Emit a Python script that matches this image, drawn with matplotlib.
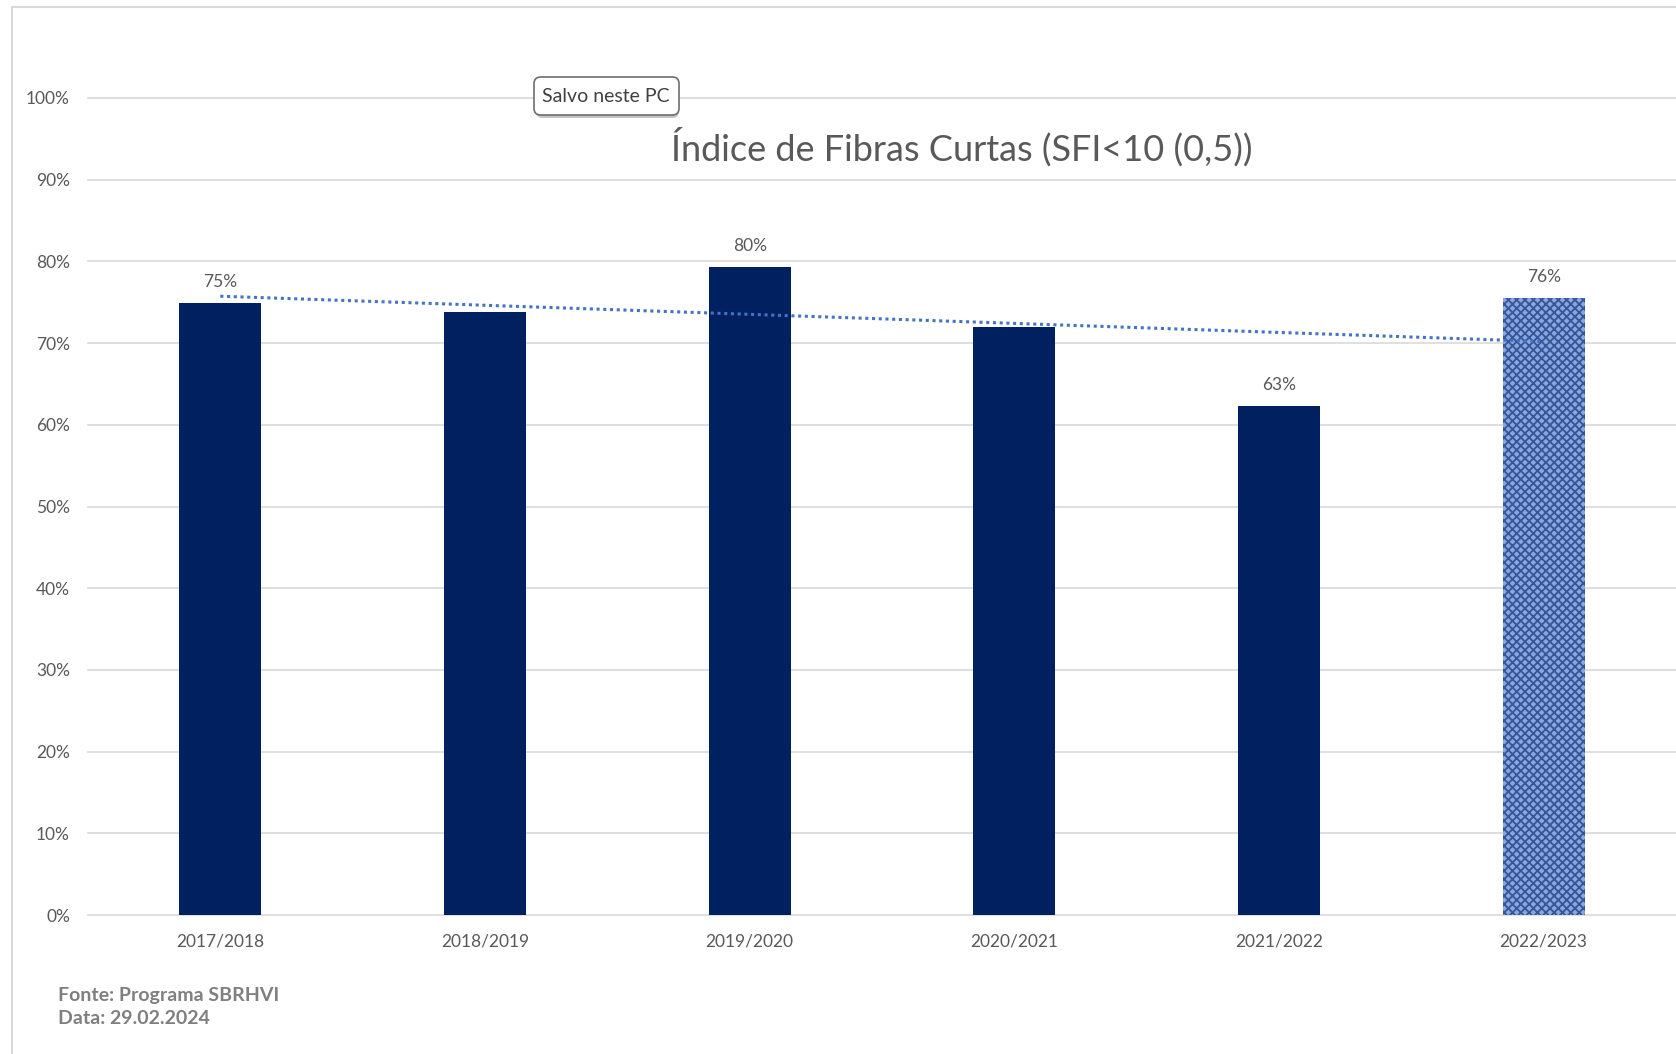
import numpy as np
import matplotlib.pyplot as plt
from matplotlib.patches import FancyBboxPatch, Rectangle

# data
seasons = ['2017/2018', '2018/2019', '2019/2020', '2020/2021', '2021/2022', '2022/2023']
sfi = [0.749, 0.738, 0.793, 0.720, 0.623, 0.755]
labels = ['75%', '', '80%', '', '63%', '76%']
y_ticks = [0, 0.1, 0.2, 0.3, 0.4, 0.5, 0.6, 0.7, 0.8, 0.9, 1.0]

plt.rcParams['font.family'] = ['Lato', 'DejaVu Sans']
plt.rcParams['hatch.linewidth'] = 1.3
gray = '#595959'

fig = plt.figure(figsize=(16.76, 10.54), dpi=100)
ax = fig.add_axes([88 / 1676, 1 - 915 / 1054, 1 - 88 / 1676, (915 - 98) / 1054])

x = np.arange(len(seasons))
ax.bar(x[:-1], sfi[:-1], width=0.31, color='#002060', zorder=2)
# last season drawn with a textured fill
ax.bar(x[-1], sfi[-1], width=0.31, color='#8aa6dc', hatch='xxxx', edgecolor='#34559a',
       linewidth=0, zorder=2)

# linear trendline
coef = np.polyfit(x, sfi, 1)
ax.plot(x, np.polyval(coef, x), linestyle=(0, (1, 1.2)), color='#4472C4', lw=2.2, zorder=3)

for i, lab in enumerate(labels):
    if lab:
        ax.annotate(lab, (x[i], sfi[i]), xytext=(0, 15), textcoords='offset points',
                    ha='center', va='center', fontsize=12.5, color=gray)

ax.set_xlim(-0.5, 5.5)
ax.set_ylim(0, 1)
ax.set_yticks(y_ticks)
ax.set_yticklabels([f'{int(round(t * 100))}%' for t in y_ticks])
ax.set_xticks(x)
ax.set_xticklabels(seasons)
ax.tick_params(axis='both', length=0, colors=gray, labelsize=12.5)
ax.tick_params(axis='y', pad=13)
ax.tick_params(axis='x', pad=13)
for s in ax.spines.values():
    s.set_visible(False)
ax.yaxis.grid(True, color='#d9d9d9', lw=1.2, zorder=0)
ax.set_axisbelow(True)
for gl in ax.get_ygridlines():
    gl.set_clip_on(False)

fig.text(962 / 1676, 1 - 147 / 1054, 'Índice de Fibras Curtas (SFI<10 (0,5))',
         ha='center', va='center', fontsize=26, color=gray)

fig.text(58 / 1676, 1 - 996 / 1054, 'Fonte: Programa SBRHVI', fontsize=14,
         fontweight='bold', color='#7f7f7f', va='center')
fig.text(58 / 1676, 1 - 1018 / 1054, 'Data: 29.02.2024', fontsize=14,
         fontweight='bold', color='#7f7f7f', va='center')

# chart frame
fig.patches.append(Rectangle((12 / 1676, -0.1), 1.2, 1 - 7 / 1054 + 0.1,
                             transform=fig.transFigure, fill=False,
                             edgecolor='#d9d9d9', lw=1.5))

# "Salvo neste PC" tooltip with a soft shadow
for k in range(6, 0, -1):
    fig.patches.append(FancyBboxPatch((536 / 1676, 1 - 118 / 1054), 143 / 1676, 38 / 1054,
                                      boxstyle='round,pad=0,rounding_size=0.004',
                                      transform=fig.transFigure, facecolor='black',
                                      edgecolor='none', alpha=0.012 * k,
                                      mutation_aspect=1676 / 1054))
fig.patches.append(FancyBboxPatch((534 / 1676, 1 - 115 / 1054), 145 / 1676, 38 / 1054,
                                  boxstyle='round,pad=0,rounding_size=0.004',
                                  transform=fig.transFigure, facecolor='white',
                                  edgecolor='#6e6e6e', lw=1.2,
                                  mutation_aspect=1676 / 1054))
fig.text(606 / 1676, 1 - 96 / 1054, 'Salvo neste PC', ha='center', va='center',
         fontsize=14, color='#404040')

fig.savefig('out.png', dpi=100)
